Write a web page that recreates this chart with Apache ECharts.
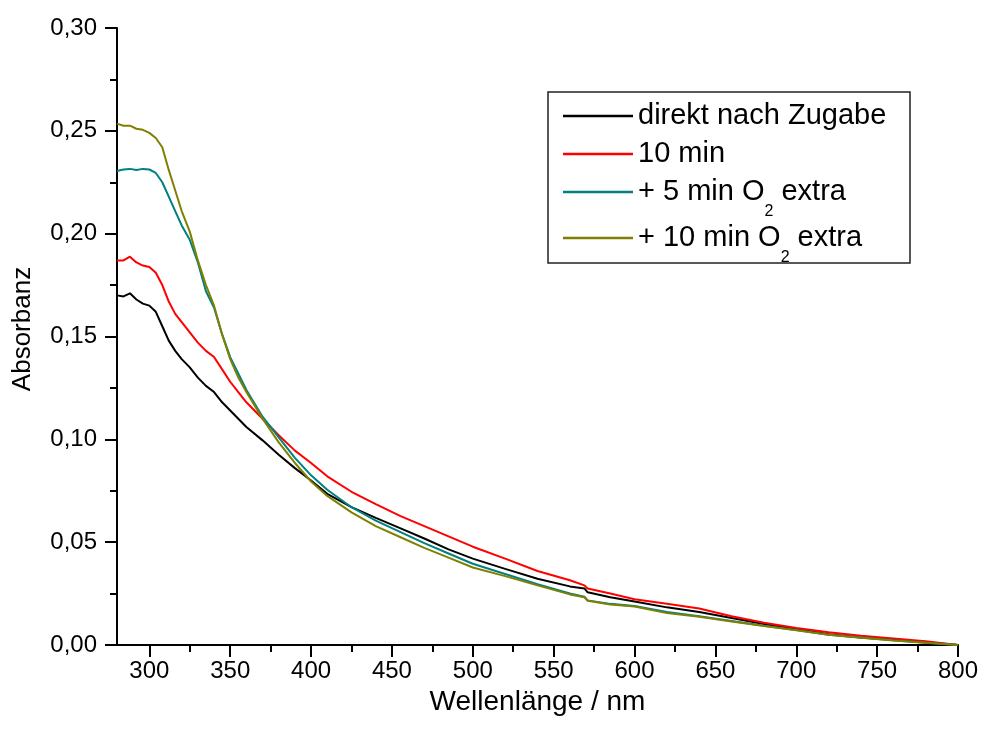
<!DOCTYPE html>
<html>
<head>
<meta charset="utf-8">
<script src="https://cdn.jsdelivr.net/npm/echarts@6/dist/echarts.min.js"></script>
<style>
html,body{margin:0;padding:0;background:#fff;}
#chart{width:985px;height:729px;}
</style>
</head>
<body>
<div id="chart"></div>
<script>
// Wavelength (nm)
const wavelengths = [280,284,288,292,296,300,304,308,312,316,320,325,330,335,340,345,350,355,360,370,380,390,400,410,425,440,455,470,485,500,520,540,560,569,571,585,600,620,640,660,680,700,720,740,760,780,800];

const seriesNames = ['direkt nach Zugabe', '10 min', '+ 5 min O2 extra', '+ 10 min O2 extra'];

const direktNachZugabe = [0.170,0.1695,0.171,0.168,0.166,0.165,0.162,0.155,0.148,0.143,0.139,0.135,0.130,0.126,0.123,0.118,0.114,0.110,0.106,0.0995,0.0925,0.0860,0.0800,0.0735,0.0670,0.0618,0.0568,0.0518,0.0465,0.0420,0.0370,0.0322,0.0285,0.0275,0.0256,0.0232,0.0211,0.0183,0.0160,0.0131,0.0102,0.0078,0.0052,0.0037,0.0025,0.0013,0.0000];

const zehnMin = [0.187,0.187,0.1888,0.186,0.1845,0.1838,0.181,0.175,0.167,0.161,0.157,0.152,0.147,0.143,0.140,0.134,0.128,0.123,0.118,0.110,0.102,0.0945,0.0885,0.0820,0.0745,0.0685,0.0628,0.0578,0.0528,0.0478,0.0420,0.0360,0.0315,0.0290,0.0275,0.0250,0.0222,0.0201,0.0177,0.0140,0.0108,0.0083,0.0062,0.0045,0.0032,0.0018,0.0000];

const fuenfMinO2 = [0.2305,0.2312,0.2315,0.231,0.2315,0.2312,0.2295,0.225,0.218,0.211,0.204,0.197,0.186,0.172,0.164,0.151,0.140,0.132,0.124,0.111,0.101,0.091,0.0825,0.0755,0.0670,0.0605,0.0550,0.0495,0.0445,0.0395,0.0345,0.0296,0.0250,0.0235,0.0217,0.0200,0.0190,0.0160,0.0140,0.0117,0.0094,0.0073,0.0050,0.0036,0.0023,0.0011,0.0000];

const zehnMinO2 = [0.2535,0.2525,0.2525,0.251,0.2505,0.249,0.2465,0.242,0.231,0.221,0.211,0.201,0.187,0.175,0.165,0.151,0.139,0.130,0.123,0.110,0.0985,0.0885,0.0795,0.0725,0.0645,0.0578,0.0525,0.0472,0.0425,0.0377,0.0335,0.0290,0.0246,0.0232,0.0215,0.0197,0.0187,0.0155,0.0137,0.0114,0.0092,0.0072,0.0050,0.0035,0.0022,0.0011,0.0000];

const xMajorTicks = [300,350,400,450,500,550,600,650,700,750,800];
const xMinorTicks = [325,375,425,475,525,575,625,675,725,775];

const colors = ['#000000', '#ff0000', '#008080', '#808000'];
const allValues = [direktNachZugabe, zehnMin, fuenfMinO2, zehnMinO2];

const FONT = '"Liberation Sans", Arial, sans-serif';

function pairs(vals){ return wavelengths.map((w,i)=>[w, vals[i]]); }

function legendFormatter(name){
  return name.replace('O2', 'O{sub|2}');
}

const legendTops = [101, 139, 177, 223];
const legends = seriesNames.map((n, i) => ({
  data: [n],
  orient: 'vertical',
  left: 563,
  top: legendTops[i],
  padding: 0,
  itemWidth: 70,
  itemHeight: 2.5,
  icon: 'rect',
  selectedMode: false,
  formatter: legendFormatter,
  textStyle: {
    fontFamily: FONT,
    fontSize: 29,
    lineHeight: 30,
    color: '#000',
    rich: {
      sub: { fontFamily: FONT, fontSize: 16, lineHeight: 12, verticalAlign: 'top', padding: [27, 0, 0, 0], color: '#000' }
    }
  }
}));

const chart = echarts.init(document.getElementById('chart'), null, {renderer: 'canvas'});
chart.setOption({
  backgroundColor: '#fff',
  animation: false,
  color: colors,
  grid: { left: 117, right: 27, top: 28, bottom: 84, containLabel: false, outerBoundsMode: 'none' },
  legend: legends,
  graphic: [{
    type: 'rect',
    shape: { x: 548, y: 92, width: 362, height: 171 },
    style: { fill: 'none', stroke: '#222', lineWidth: 1.5 },
    z: 10
  }],
  xAxis: [{
    type: 'value',
    min: 280, max: 800,
    position: 'bottom',
    name: 'Wellenlänge / nm',
    nameLocation: 'middle',
    nameGap: 41,
    nameTextStyle: { fontFamily: FONT, fontSize: 28, color: '#000' },
    axisLine: { show: true, onZero: false, lineStyle: { color: '#000', width: 2 } },
    axisTick: { show: true, inside: false, length: 12, customValues: xMajorTicks, lineStyle: { color: '#000', width: 2 } },
    axisLabel: { show: true, margin: 14, customValues: xMajorTicks, fontFamily: FONT, fontSize: 24, color: '#000' },
    splitLine: { show: false }
  }, {
    type: 'value',
    min: 280, max: 800,
    position: 'bottom',
    axisLine: { show: false },
    axisTick: { show: true, inside: false, length: 7, customValues: xMinorTicks, lineStyle: { color: '#000', width: 2 } },
    axisLabel: { show: false },
    splitLine: { show: false }
  }],
  yAxis: {
    type: 'value',
    min: 0, max: 0.30, interval: 0.05,
    name: 'Absorbanz',
    nameLocation: 'middle',
    nameGap: 81,
    nameTextStyle: { fontFamily: FONT, fontSize: 26, color: '#000', padding: [0, 0, 0, 15] },
    axisLine: { show: true, onZero: false, lineStyle: { color: '#000', width: 2 } },
    axisTick: { show: true, inside: false, length: 12, lineStyle: { color: '#000', width: 2 } },
    minorTick: { show: true, splitNumber: 2, length: 7, lineStyle: { color: '#000', width: 2 } },
    axisLabel: {
      margin: 20, fontFamily: FONT, fontSize: 24, color: '#000',
      formatter: v => v.toFixed(2).replace('.', ',')
    },
    splitLine: { show: false },
    minorSplitLine: { show: false }
  },
  series: seriesNames.map((n, i) => ({
    name: n,
    type: 'line',
    xAxisIndex: 0,
    data: pairs(allValues[i]),
    showSymbol: false,
    symbol: 'none',
    smooth: false,
    lineStyle: { width: 2, color: colors[i] },
    itemStyle: { color: colors[i] },
    z: 2 + i
  }))
});
</script>
</body>
</html>
